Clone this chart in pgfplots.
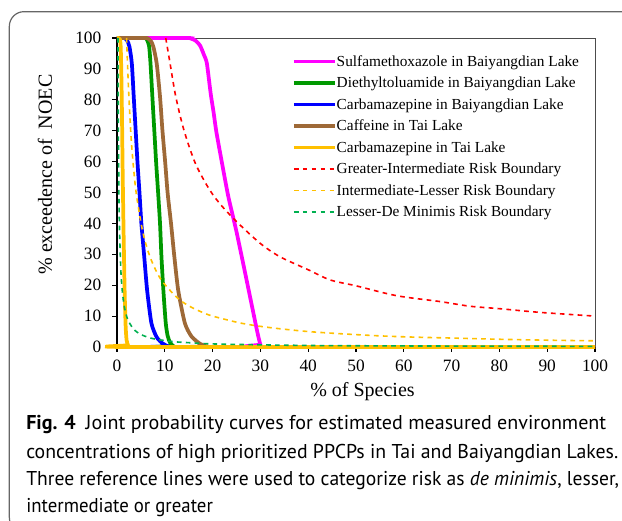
\documentclass[border=0pt]{standalone}
\usepackage{fontspec}
\setmainfont{Liberation Serif}
\newfontfamily\capfont{PT Sans}
\usepackage{graphicx}
\usepackage{pgfplots}
\pgfplotsset{compat=1.18}
\definecolor{cMag}{RGB}{255,0,255}
\definecolor{cGrn}{RGB}{0,153,0}
\definecolor{cBlu}{RGB}{0,0,255}
\definecolor{cBrn}{RGB}{158,105,55}
\definecolor{cGold}{RGB}{255,192,0}
\definecolor{cRed}{RGB}{255,0,0}
\definecolor{cDG}{RGB}{0,176,80}
\begin{document}
\begin{tikzpicture}
\useasboundingbox (0,0) rectangle (466.5pt,390.75pt);
\draw[black!60, line width=0.9pt, rounded corners=11pt] (7pt,-8.25pt) rectangle (480pt,382pt);
\begin{axis}[
  at={(87.75pt,130.5pt)}, anchor=south west,
  scale only axis, width=358.5pt, height=231.75pt,
  xmin=0, xmax=100, ymin=0, ymax=100,
  clip=false,
  axis x line*=bottom, axis y line*=left,
  axis line style={black, line width=1.1pt},
  tick align=outside, major tick length=3.75pt,
  major tick style={black, line width=0.8pt},
  xtick={0,10,...,100}, ytick={0,10,...,100},
  tick label style={font=\fontsize{13}{15}\selectfont},
  yticklabel style={xshift=-4.5pt},
  xticklabel style={yshift=-2.25pt},
  /pgf/number format/assume math mode=true,
  xlabel={\% of Species},
  ylabel={\% exceedence of\ \ NOEC},
  label style={font=\fontsize{15}{17}\selectfont},
  xlabel style={at={(axis description cs:0.5136,-0.1618)}, anchor=base},
  ylabel style={at={(axis description cs:-0.136,0.558)}, anchor=base},
  legend cell align=left,
  legend style={at={(axis description cs:0.3661,0.9427)}, anchor=north west,
    draw=none, fill=none, inner sep=0pt, outer sep=0pt,
    font=\fontsize{11.5}{13}\selectfont, row sep=7.625pt,
    nodes={text height=8pt, text depth=0.5pt, inner ysep=0pt, inner xsep=0pt, xshift=1.5pt},
    /tikz/every even column/.style={column sep=0pt},
    /tikz/every odd column/.style={column sep=0pt}},
  legend image code/.code={\draw[#1] (0pt,0pt) -- (30.75pt,0pt);},
]
\draw[black!70, line width=0.6pt] (rel axis cs:0,1) -- (rel axis cs:1,1) -- (rel axis cs:1,0);
\addplot[cMag, line width=2.8pt, smooth, tension=0.4] coordinates {
(0,100) (14.5,100) (15.5,99.8) (16.5,99.1) (17.4,97.5) (18.2,94.5) (18.8,91.8) (19.6,82) (20.2,76) (20.8,69.5) (22.1,58.4) (23.3,48.6) (24.9,38) (26.4,27) (27.8,16.5) (29.2,6) (29.7,2.5) (30.0,0.8) (30.4,0) (100,0)};
\addlegendentry{Sulfamethoxazole in Baiyangdian Lake}
\addplot[cGrn, line width=2.8pt, smooth, tension=0.4] coordinates {
(0,100) (5.6,100) (6.2,99.6) (6.7,97.5) (7.0,92) (7.4,81) (7.8,70.2) (8.2,59.4) (8.6,50) (9.0,40) (9.3,29.2) (9.7,18.4) (10.2,7.7) (10.6,3.6) (11.1,1.4) (11.8,0.3) (12.6,0) (100,0)};
\addlegendentry{Diethyltoluamide in Baiyangdian Lake}
\addplot[cBlu, line width=2.8pt, smooth, tension=0.4] coordinates {
(0,100) (1.6,100) (2.1,99.3) (2.6,97.2) (3.1,91.8) (3.5,81) (3.9,70.2) (4.3,59.4) (4.7,50) (5.1,40) (5.7,29.2) (6.3,18.4) (7.2,7.7) (8.3,3.2) (9.5,1.2) (10.7,0.2) (11.5,0) (100,0)};
\addlegendentry{Carbamazepine in Baiyangdian Lake}
\addplot[cBrn, line width=2.8pt, smooth, tension=0.4] coordinates {
(0,100) (5.9,100) (6.6,99.7) (7.1,99) (7.6,97.2) (8.3,91.8) (9.0,81) (9.5,70.2) (10.1,59.4) (10.6,49.7) (11.3,40) (12.0,29.2) (12.8,18.4) (14.2,7.7) (15.6,3.4) (17.4,1.0) (18.8,0.2) (19.5,0) (100,0)};
\addlegendentry{Caffeine in Tai Lake}
\addplot[cGold, line width=2.8pt, smooth, tension=0.4] coordinates {
(0,100) (0.6,99.6) (0.8,96) (1.0,80) (1.2,55) (1.4,35) (1.6,18) (1.8,7) (2.0,2.3) (2.3,0.6) (2.8,0) (100,0)};
\addlegendentry{Carbamazepine in Tai Lake}
\addplot[cRed, line width=1.2pt, dash pattern=on 3.5pt off 3.2pt, smooth] coordinates {
(10.2,100) (11.1,91.8) (12.3,81) (14.0,70.2) (16.4,59.4) (19.4,50.8) (22,45.5) (25.4,40) (30,33.5) (34.1,29.2) (40,25) (44.6,21.7) (50,19.8) (58.5,16.6) (67.6,14.7) (73.8,13.2) (80,12.4) (88.5,11.2) (100,10.0)};
\addlegendentry{Greater-Intermediate Risk Boundary}
\addplot[cGold, line width=1.2pt, dash pattern=on 3.5pt off 3.2pt, smooth] coordinates {
(2.0,100) (2.4,84) (2.9,69) (3.4,59) (4.0,50) (5.1,39.5) (6,33.5) (7.2,28) (9,22.3) (11.4,17.8) (13.5,14.8) (15.9,12.6) (19,10.5) (22.2,9.1) (26,7.7) (29.9,6.7) (34.1,5.9) (40,5.0) (46.7,4.3) (55,3.6) (62,3.2) (70,2.9) (80,2.5) (90,2.2) (100,2.0)};
\addlegendentry{Intermediate-Lesser Risk Boundary}
\addplot[cDG, line width=1.2pt, dash pattern=on 3.5pt off 3.2pt, smooth] coordinates {
(0.2,100) (0.25,80) (0.3,67) (0.4,50) (0.5,40) (0.6,34) (0.8,25) (1.0,20) (1.3,15.5) (1.6,12.5) (2.0,10) (2.4,8.4) (3.0,6.8) (3.8,5.3) (4.6,4.4) (5.5,3.7) (7,2.9) (9,2.3) (12,1.7) (15,1.4) (20,1.0) (30,0.7) (40,0.5) (50,0.4) (70,0.3) (100,0.2)};
\addlegendentry{Lesser-De Minimis Risk Boundary}
\end{axis}
\begin{scope}[every node/.style={anchor=base west, inner sep=0pt, font=\capfont\fontsize{15}{18}\selectfont}]
\node at (19.5pt,68.25pt) {\resizebox{435pt}{\height}{\textbf{Fig. 4}\hspace{0.5em}Joint probability curves for estimated measured environment}};
\node at (19.5pt,47pt) {\resizebox{444pt}{\height}{concentrations of high prioritized PPCPs in Tai and Baiyangdian Lakes.}};
\node at (19.5pt,26.5pt) {\resizebox{444.5pt}{\height}{Three reference lines were used to categorize risk as \textit{de minimis}, lesser,}};
\node at (19.5pt,6pt) {\resizebox{140pt}{\height}{intermediate or greater}};
\end{scope}
\end{tikzpicture}
\end{document}
